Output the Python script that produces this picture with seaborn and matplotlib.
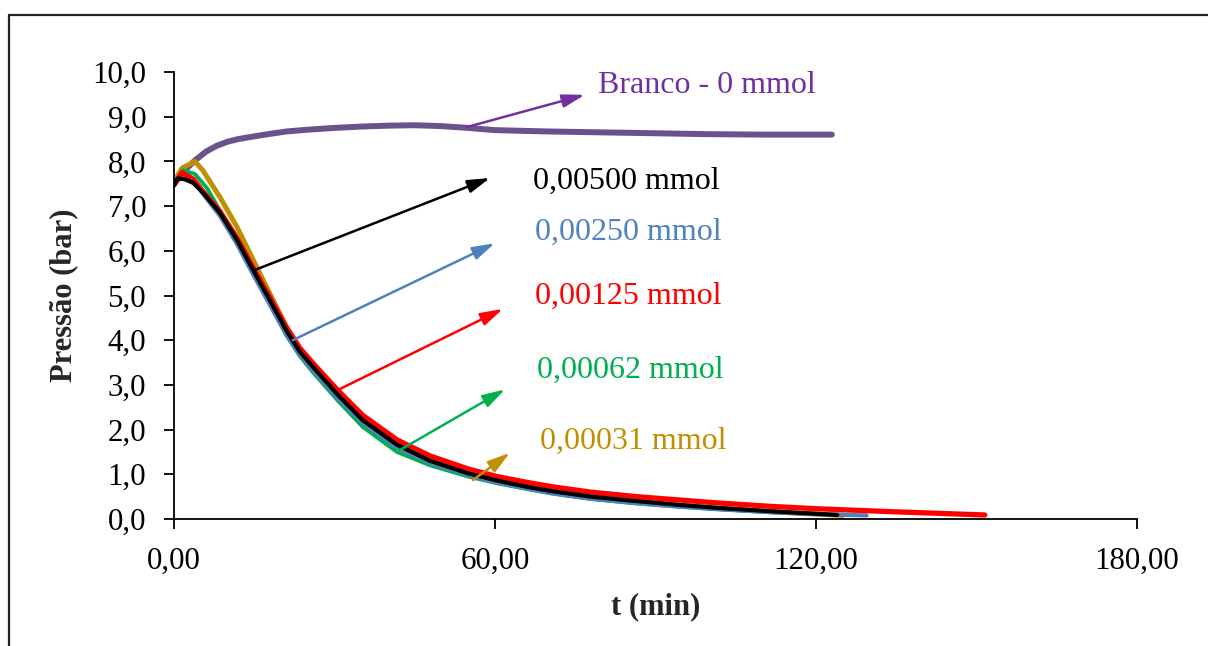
import matplotlib
matplotlib.use("Agg")
import matplotlib.pyplot as plt
import seaborn as sns
import pandas as pd
from matplotlib.ticker import FuncFormatter, MultipleLocator
from matplotlib.lines import Line2D

sns.set_style("white")
plt.rcParams['font.family'] = ['Liberation Serif', 'DejaVu Serif']

# pressure (bar) vs time (min)
t_branco = [0, 2, 4, 6, 8, 10, 12, 14, 17, 21, 25, 30, 35, 40, 45, 50, 55, 60, 70, 80, 90, 100, 110, 123]
p_branco = [7.5, 7.8, 8.03, 8.22, 8.35, 8.44, 8.5, 8.54, 8.6, 8.67, 8.71, 8.75, 8.78, 8.8, 8.81, 8.79,
            8.75, 8.7, 8.67, 8.65, 8.63, 8.61, 8.6, 8.6]

t_00031 = [0, 1.5, 3.9, 5.4, 8.6, 11.8, 14.8, 17.9, 21.1, 23.5, 26, 30.7, 35.3, 41.7, 47.9, 55, 60.4,
           66, 70.8, 78, 86.5, 94, 101.5, 112, 125]
p_00031 = [7.55, 7.85, 8.0, 7.8, 7.2, 6.53, 5.8, 5.05, 4.28, 3.82, 3.45, 2.8, 2.24, 1.66, 1.28, 1.0,
           0.84, 0.7, 0.6, 0.48, 0.38, 0.31, 0.24, 0.16, 0.08]

t_00062 = [0, 1.7, 3.9, 6.2, 8.6, 11.8, 14.8, 17.9, 21.1, 23.5, 26, 30.7, 35.3, 41.7, 47.9, 55, 60.4,
           66, 70.8, 78, 86.5, 94, 101.5, 112, 120]
p_00062 = [7.5, 7.8, 7.72, 7.4, 6.9, 6.2, 5.5, 4.82, 4.1, 3.65, 3.28, 2.64, 2.06, 1.5, 1.2, 0.95, 0.8,
           0.67, 0.57, 0.45, 0.35, 0.28, 0.22, 0.15, 0.11]

t_00125 = [0, 1.5, 3.6, 5.4, 8.6, 11.8, 14.8, 17.9, 21.1, 23.5, 26, 30.7, 35.3, 41.7, 47.9, 55, 60.4,
           66, 70.8, 78, 86.5, 94, 101.5, 112, 120, 135, 151.6]
p_00125 = [7.47, 7.75, 7.6, 7.33, 6.88, 6.28, 5.62, 4.96, 4.27, 3.83, 3.48, 2.87, 2.32, 1.77, 1.41, 1.12,
           0.95, 0.82, 0.72, 0.6, 0.5, 0.43, 0.36, 0.28, 0.23, 0.16, 0.09]

t_00250 = [0, 1.5, 3.6, 5.4, 8.6, 11.8, 14.8, 17.9, 21.1, 23.5, 26, 30.7, 35.3, 41.7, 47.9, 55, 60.4,
           66, 70.8, 78, 86.5, 94, 101.5, 112, 120, 129.5]
p_00250 = [7.47, 7.74, 7.6, 7.28, 6.78, 6.15, 5.47, 4.8, 4.1, 3.68, 3.32, 2.7, 2.15, 1.6, 1.26, 0.98,
           0.81, 0.68, 0.57, 0.45, 0.35, 0.28, 0.22, 0.15, 0.11, 0.08]

t_00500 = [0, 0.7, 2, 3.6, 5.4, 8.6, 11.8, 14.8, 17.9, 21.1, 23.5, 26, 30.7, 35.3, 41.7, 47.9, 55, 60.4,
           66, 70.8, 78, 86.5, 94, 101.5, 112, 124]
p_00500 = [7.47, 7.62, 7.6, 7.52, 7.3, 6.85, 6.24, 5.57, 4.9, 4.2, 3.75, 3.4, 2.77, 2.21, 1.66, 1.3,
           1.02, 0.86, 0.72, 0.62, 0.5, 0.4, 0.32, 0.25, 0.17, 0.09]

series = [
    ("Branco - 0 mmol", t_branco, p_branco, "#6B528C", 4.3),
    ("0,00031 mmol", t_00031, p_00031, "#BF9000", 3.6),
    ("0,00062 mmol", t_00062, p_00062, "#00B050", 2.8),
    ("0,00250 mmol", t_00250, p_00250, "#4F81BD", 3.0),
    ("0,00125 mmol", t_00125, p_00125, "#FF0000", 3.8),
    ("0,00500 mmol", t_00500, p_00500, "#000000", 3.0),
]

# annotation: (label, arrow tail xy, arrow head xy, text xy, colour)
notes = [
    ("Branco - 0 mmol", (54.8, 8.77), (76.8, 9.49), (79.3, 9.69), "#7030A0"),
    ("0,00500 mmol", (15.1, 5.57), (59.1, 7.63), (67.1, 7.56), "#000000"),
    ("0,00250 mmol", (22.2, 4.0), (60.0, 6.17), (67.5, 6.42), "#4F81BD"),
    ("0,00125 mmol", (30.7, 2.89), (61.5, 4.70), (67.5, 4.99), "#FF0000"),
    ("0,00062 mmol", (42.2, 1.54), (61.9, 2.90), (67.8, 3.33), "#00B050"),
    ("0,00031 mmol", (55.9, 0.87), (62.8, 1.48), (68.5, 1.74), "#BF9000"),
]

fig = plt.figure(figsize=(12.08, 6.46), dpi=100)
ax = fig.add_axes([0.144, 0.1966, 0.797, 0.6919])

for name, t, p, col, lw in series:
    df = pd.DataFrame({"t": t, "p": p})
    sns.lineplot(data=df, x="t", y="p", ax=ax, color=col, linewidth=lw,
                 sort=False, estimator=None, solid_capstyle="round", solid_joinstyle="round")

for label, tail, head, txt, col in notes:
    ax.annotate("", xy=head, xytext=tail,
                arrowprops=dict(arrowstyle="-|>,head_length=0.75,head_width=0.22",
                                mutation_scale=18, color=col, lw=1.8, shrinkA=0, shrinkB=0))
    ax.text(txt[0], txt[1], label, color=col, fontsize=23, va="center", ha="left")

ax.set_xlim(0, 180)
ax.set_ylim(0, 10)
ax.xaxis.set_major_locator(MultipleLocator(60))
ax.yaxis.set_major_locator(MultipleLocator(1))
ax.xaxis.set_major_formatter(FuncFormatter(lambda v, pos: f"{v:.2f}".replace(".", ",")))
ax.yaxis.set_major_formatter(FuncFormatter(lambda v, pos: f"{v:.1f}".replace(".", ",")))
ax.tick_params(axis="both", direction="out", length=7, width=1.3, labelsize=22.3,
               pad=13, bottom=True, left=True, colors="black")
for s in ["top", "right"]:
    ax.spines[s].set_visible(False)
for s in ["left", "bottom"]:
    ax.spines[s].set_color("black")
    ax.spines[s].set_linewidth(1.3)

ax.set_xlabel("t (min)", fontsize=22, fontweight="bold", labelpad=12)
ax.set_ylabel("Pressão (bar)", fontsize=22, fontweight="bold", labelpad=10)

# chart area border (only top and left are inside the image)
fig.add_artist(Line2D([0.0075, 1.01], [0.977, 0.977], color="#222222", lw=1.6, transform=fig.transFigure))
fig.add_artist(Line2D([0.0075, 0.0075], [-0.01, 0.977], color="#222222", lw=1.6, transform=fig.transFigure))

fig.savefig("out.png", dpi=100)
